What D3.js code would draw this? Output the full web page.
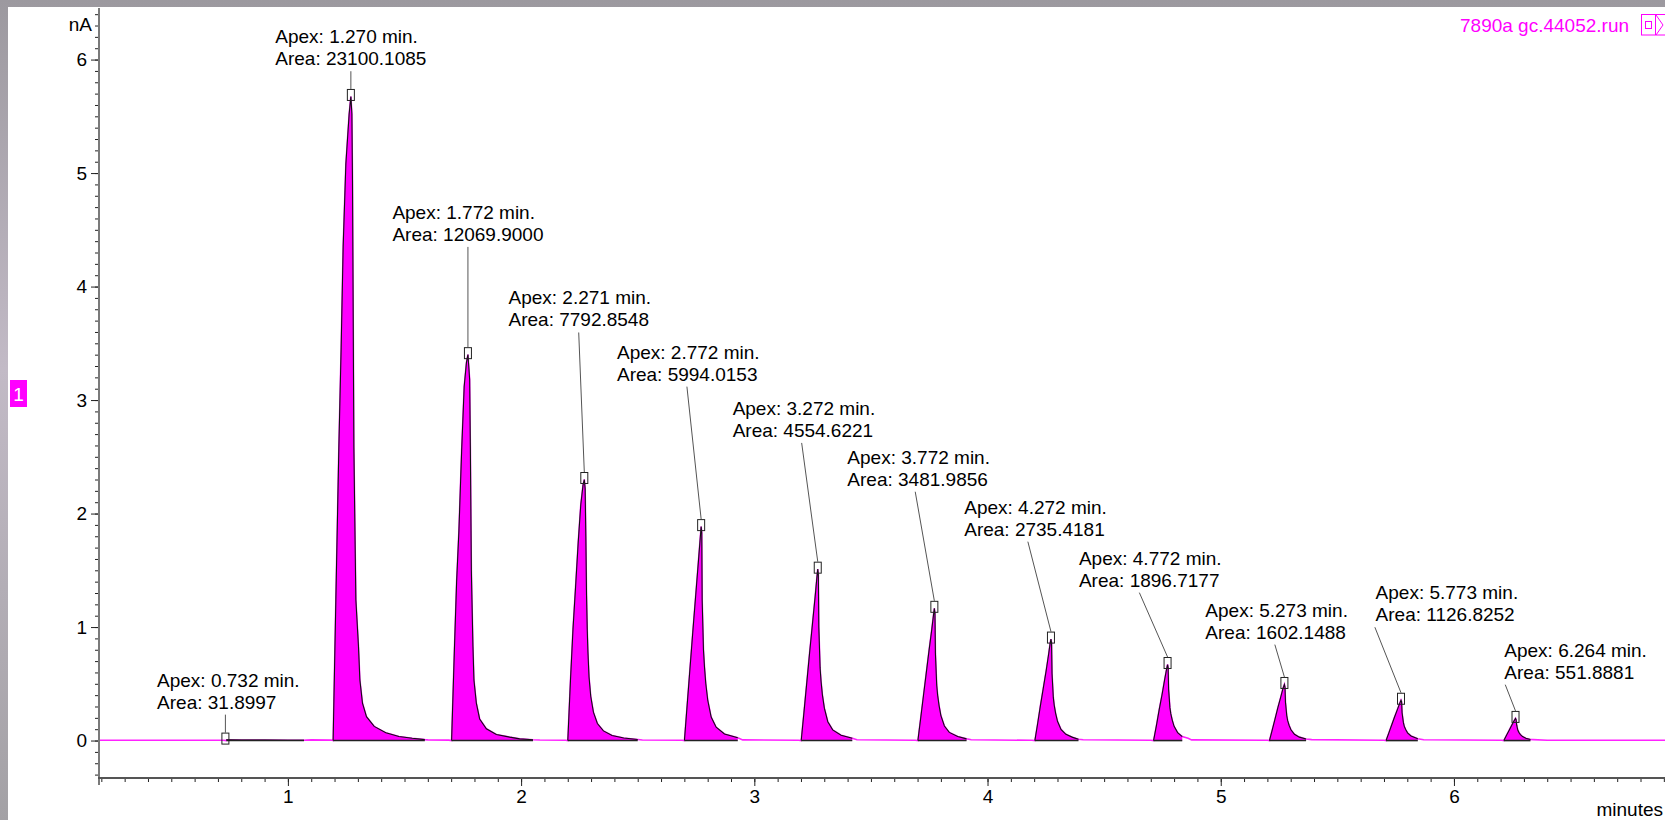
<!DOCTYPE html>
<html><head><meta charset="utf-8">
<script src="https://cdn.jsdelivr.net/npm/d3@7"></script>
<style>
html,body{margin:0;padding:0;overflow:hidden;background:#fff;}
svg{display:block;font-family:"Liberation Sans",Arial,sans-serif;}
</style></head><body>
<svg id="chart" width="1665" height="820"></svg>
<script>
// ---------------- data ----------------
const runTitle = "7890a gc.44052.run";
const yUnit = "nA";
const xUnit = "minutes";
const signalTag = "1";
const xTickLabels = ["1","2","3","4","5","6"];
const yTickLabels = ["0","1","2","3","4","5","6"];

const apexTimes   = [0.732, 1.270, 1.772, 2.271, 2.772, 3.272, 3.772, 4.272, 4.772, 5.273, 5.773, 6.264];
const apexHeights = [0.004, 5.675, 3.40, 2.30, 1.885, 1.51, 1.165, 0.894, 0.67, 0.494, 0.355, 0.195];
const peakAreas   = ["31.8997","23100.1085","12069.9000","7792.8548","5994.0153","4554.6221",
                     "3481.9856","2735.4181","1896.7177","1602.1488","1126.8252","551.8881"];

// peak profiles: [minutes, nA]
const peakProfiles = [
  [[0.737,0],[0.738,0.006],[0.80,0.005],[0.90,0.004],[1.00,0.003],[1.069,0.002]],
  [[1.194,0],[1.2057,1.24],[1.2185,2.58],[1.2284,3.46],[1.237,4.35],[1.2486,5.08],[1.2627,5.52],[1.270,5.675],
   [1.2743,5.52],[1.2769,4.94],[1.2799,3.75],[1.2829,2.58],[1.2884,1.70],[1.2914,1.24],[1.3026,0.83],[1.3086,0.534],
   [1.3197,0.33],[1.3369,0.21],[1.3699,0.125],[1.42,0.068],[1.476,0.036],[1.533,0.02],[1.587,0.008]],
  [[1.702,0],[1.714,0.80],[1.7235,1.40],[1.7334,1.85],[1.745,2.55],[1.756,3.12],[1.7656,3.33],[1.772,3.40],
   [1.7754,3.30],[1.7793,3.18],[1.7823,2.59],[1.7866,1.50],[1.7892,1.24],[1.7934,0.83],[1.7977,0.534],[1.808,0.33],
   [1.8222,0.19],[1.8509,0.104],[1.8938,0.053],[1.9508,0.03],[1.9937,0.015],[2.051,0.007]],
  [[2.2003,0],[2.2115,0.52],[2.2225,0.98],[2.2335,1.35],[2.245,1.75],[2.256,2.08],[2.2655,2.25],[2.271,2.30],
   [2.2745,2.22],[2.2775,1.80],[2.2805,1.28],[2.2835,0.98],[2.2865,0.78],[2.2912,0.56],[2.2985,0.39],[2.31,0.25],
   [2.327,0.15],[2.353,0.085],[2.39,0.045],[2.44,0.022],[2.50,0.009]],
  [[2.7004,0],[2.712,0.31],[2.724,0.63],[2.736,0.95],[2.748,1.26],[2.760,1.57],[2.768,1.78],[2.772,1.885],
   [2.7746,1.83],[2.7763,1.24],[2.7819,0.80],[2.7862,0.65],[2.7917,0.505],[2.8003,0.355],[2.8149,0.207],
   [2.8363,0.117],[2.872,0.058],[2.929,0.024]],
  [[3.2012,0],[3.213,0.25],[3.225,0.51],[3.237,0.77],[3.249,1.02],[3.261,1.27],[3.268,1.43],[3.272,1.51],
   [3.2746,1.46],[3.2765,1.0],[3.282,0.64],[3.2862,0.52],[3.2917,0.405],[3.3003,0.285],[3.315,0.166],
   [3.336,0.094],[3.372,0.047],[3.42,0.02]],
  [[3.7015,0],[3.713,0.19],[3.725,0.39],[3.737,0.59],[3.749,0.79],[3.761,0.98],[3.768,1.10],[3.772,1.165],
   [3.7745,1.12],[3.7765,0.77],[3.782,0.49],[3.786,0.40],[3.792,0.31],[3.800,0.22],[3.815,0.128],
   [3.836,0.072],[3.872,0.036],[3.91,0.015]],
  [[4.203,0],[4.215,0.15],[4.227,0.31],[4.239,0.46],[4.251,0.61],[4.262,0.76],[4.268,0.85],[4.272,0.894],
   [4.2745,0.86],[4.2765,0.59],[4.282,0.38],[4.286,0.31],[4.292,0.24],[4.300,0.17],[4.315,0.098],
   [4.336,0.055],[4.365,0.028],[4.39,0.012]],
  [[4.712,0],[4.724,0.13],[4.736,0.27],[4.748,0.40],[4.759,0.53],[4.767,0.62],[4.772,0.67],
   [4.7745,0.64],[4.7765,0.45],[4.782,0.29],[4.786,0.235],[4.792,0.18],[4.800,0.125],[4.815,0.07],[4.835,0.035]],
  [[5.209,0],[5.221,0.095],[5.233,0.19],[5.245,0.29],[5.257,0.38],[5.267,0.46],[5.273,0.494],
   [5.2755,0.47],[5.2775,0.34],[5.283,0.22],[5.287,0.175],[5.293,0.135],[5.301,0.095],[5.316,0.055],
   [5.337,0.03],[5.366,0.014]],
  [[5.709,0],[5.721,0.068],[5.733,0.137],[5.745,0.205],[5.757,0.27],[5.767,0.325],[5.773,0.355],
   [5.7755,0.34],[5.7775,0.245],[5.783,0.16],[5.787,0.125],[5.793,0.097],[5.801,0.068],[5.816,0.04],[5.845,0.016]],
  [[6.214,0],[6.226,0.048],[6.238,0.096],[6.249,0.14],[6.258,0.175],[6.264,0.195],
   [6.2665,0.185],[6.269,0.135],[6.274,0.09],[6.279,0.07],[6.285,0.052],[6.294,0.035],[6.308,0.02],[6.328,0.009]]
];

// detector baseline between peaks: [minutes, nA]
const baselineTrace = [
  [0.19,0.002],[0.72,0.002],[1.08,0.004],[1.10,0.006],[1.185,0.004],
  [1.60,0.006],[1.69,0.004],[2.08,0.005],[2.19,0.003],[2.52,0.005],[2.69,0.002],
  [2.95,0.006],[3.19,0.002],[3.44,0.007],[3.69,0.002],[3.93,0.007],[4.19,0.002],
  [4.41,0.007],[4.70,0.002],[4.86,0.02],[4.875,0.006],[5.20,0.002],[5.39,0.008],[5.70,0.002],
  [5.87,0.007],[6.205,0.002],[6.34,0.008],[6.40,0.002],[6.905,0.002]
];

// annotation placement (data units): label left edge (min), first-line baseline (nA), leader start (min)
const labelTimes  = [0.439, 0.946, 1.448, 1.946, 2.411, 2.907, 3.399, 3.900, 4.392, 4.934, 5.664, 6.216];
const labelLevels = [0.475, 6.144, 4.596, 3.842, 3.365, 2.869, 2.439, 1.999, 1.550, 1.092, 1.245, 0.739];
const leaderTimes = [0.732, 1.270, 1.772, 2.247, 2.711, 3.203, 3.690, 4.173, 4.651, 5.232, 5.661, 6.220];

// ---------------- drawing ----------------
const W = 1665, H = 820;
const svg = d3.select("#chart");
const defs = svg.append("defs");
const bg = defs.append("linearGradient").attr("id","bg").attr("x1",0).attr("y1",0).attr("x2",0).attr("y2",1);
bg.append("stop").attr("offset","0%").attr("stop-color","#9c999f");
bg.append("stop").attr("offset","45%").attr("stop-color","#c2bac6");
bg.append("stop").attr("offset","100%").attr("stop-color","#a3a1a5");
svg.append("rect").attr("width",W).attr("height",H).attr("fill","url(#bg)");
svg.append("rect").attr("x",8).attr("y",7).attr("width",W-8).attr("height",H-7).attr("fill","#fff");

const x = d3.scaleLinear().domain([0.19, 6.905]).range([99, 1665]);
const y = d3.scaleLinear().domain([-0.33, 6.45]).range([778, 8.5]);
const FONT = 19;

// full trace
const trace = baselineTrace.concat(...peakProfiles).sort((a,b)=>a[0]-b[0]);
const line = d3.line().x(d=>x(d[0])).y(d=>y(d[1]));
svg.append("path").attr("d", line(trace)).attr("fill","none")
  .attr("stroke","#ff22ff").attr("stroke-width",1.6);

// peaks
const area = d3.area().x(d=>x(d[0])).y0(y(0)).y1(d=>y(d[1]));
const pk = svg.append("g");
peakProfiles.forEach(p => {
  pk.append("path").attr("d", area(p)).attr("fill","#ff00ff");
  pk.append("path").attr("d", line(p)).attr("fill","none").attr("stroke","#111").attr("stroke-width",1.1);
  pk.append("line").attr("x1",x(p[0][0])).attr("x2",x(p[p.length-1][0]))
    .attr("y1",y(0)).attr("y2",y(0)).attr("stroke","#222").attr("stroke-width",1.6);
});

// axes
function styleAxis(g){ g.select(".domain").remove(); g.selectAll(".tick line").attr("stroke","#222");
  g.selectAll("text").attr("fill","#000").attr("font-size",FONT).attr("font-family",'"Liberation Sans",Arial,sans-serif'); }
const tenthsY = d3.range(-3, 65).map(i=>i/10);
const tenthsX = d3.range(2, 70).map(i=>i/10);
svg.append("g").attr("transform","translate(99,0)")
  .call(d3.axisLeft(y).tickValues(tenthsY).tickSize(4).tickFormat("")).call(styleAxis);
svg.append("g").attr("transform","translate(99,0)")
  .call(d3.axisLeft(y).tickValues(d3.range(0,7)).tickSize(8).tickPadding(4).tickFormat((d,i)=>yTickLabels[i])).call(styleAxis);
svg.append("g").attr("transform","translate(0,778)")
  .call(d3.axisBottom(x).tickValues(tenthsX).tickSize(4).tickFormat("")).call(styleAxis);
svg.append("g").attr("transform","translate(0,778)")
  .call(d3.axisBottom(x).tickValues(d3.range(1,7)).tickSize(8).tickPadding(4).tickFormat((d,i)=>xTickLabels[i])).call(styleAxis);
svg.append("line").attr("x1",99).attr("x2",99).attr("y1",8).attr("y2",785).attr("stroke","#7a7a7a").attr("stroke-width",2);
svg.append("line").attr("x1",98).attr("x2",W).attr("y1",778).attr("y2",778).attr("stroke","#555").attr("stroke-width",2);

svg.append("text").attr("x",92).attr("y",30.7).attr("text-anchor","end").attr("font-size",FONT).text(yUnit);
svg.append("text").attr("x",1663).attr("y",816).attr("text-anchor","end").attr("font-size",FONT).text(xUnit);

// annotations
const ann = svg.append("g").attr("font-size",FONT).attr("fill","#000");
apexTimes.forEach((t,i) => {
  const ax = x(t), ay = y(apexHeights[i]);
  const lx = x(labelTimes[i]), ly = y(labelLevels[i]);
  ann.append("line").attr("x1",x(leaderTimes[i])).attr("y1",ly+22+6)
     .attr("x2",ax).attr("y2",ay-7.5).attr("stroke","#555").attr("stroke-width",1);
  ann.append("rect").attr("x",ax-3.5).attr("y",ay-7).attr("width",7).attr("height",11)
     .attr("fill","none").attr("stroke","#222").attr("stroke-width",1);
  const tx = ann.append("text").attr("x",lx).attr("y",ly);
  tx.append("tspan").attr("x",lx).attr("y",ly).text("Apex: " + t.toFixed(3) + " min.");
  tx.append("tspan").attr("x",lx).attr("y",ly+22).text("Area: " + peakAreas[i]);
});

// title & icon
svg.append("text").attr("x",1460).attr("y",31.7).attr("font-size",FONT).attr("fill","#ff00ff").text(runTitle);
const ic = svg.append("g").attr("stroke","#ff00ff").attr("fill","none").attr("stroke-width",1);
ic.append("rect").attr("x",1641.5).attr("y",14.5).attr("width",30).attr("height",20.5);
ic.append("rect").attr("x",1645.5).attr("y",21.5).attr("width",6).attr("height",7);
ic.append("line").attr("x1",1655.5).attr("x2",1655.5).attr("y1",14.5).attr("y2",35);
ic.append("path").attr("d","M1656,15 L1663,25 L1656,35");

// left signal tag
svg.append("rect").attr("x",10).attr("y",380).attr("width",17).attr("height",27).attr("fill","#ff00ff");
svg.append("text").attr("x",18.5).attr("y",400.5).attr("text-anchor","middle").attr("font-size",FONT)
  .attr("fill","#fff").text(signalTag);
</script>
</body></html>
